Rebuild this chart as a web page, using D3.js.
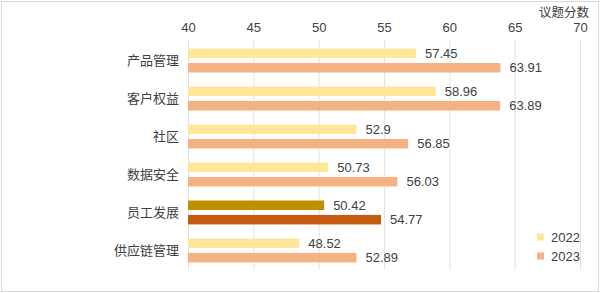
<!DOCTYPE html>
<html>
<head>
<meta charset="utf-8">
<script src="https://cdn.jsdelivr.net/npm/d3@7"></script>
<style>
  body { margin: 0; background: #fff; }
</style>
</head>
<body>
<div id="chart"></div>
<script>
// Data
const categories = ['产品管理', '客户权益', '社区', '数据安全', '员工发展', '供应链管理'];
const seriesNames = ['2022', '2023'];
const values2022 = [57.45, 58.96, 52.9, 50.73, 50.42, 48.52];
const values2023 = [63.91, 63.89, 56.85, 56.03, 54.77, 52.89];
const xTicks = [40, 45, 50, 55, 60, 65, 70];

const width = 600, height = 293;
const colors = { '2022': '#FFE699', '2023': '#F4B183' };
const highlight = { '2022': '#BF9000', '2023': '#C55A11' };
const highlightCat = '员工发展';
const cnFont = '"Noto Sans CJK SC", sans-serif';
const numFont = '"Liberation Sans", Arial, sans-serif';
const textColor = '#404040';

const rows = categories.map((c, i) => ({
    category: c,
    values: [
        { series: '2022', value: values2022[i] },
        { series: '2023', value: values2023[i] }
    ]
}));

const svg = d3.select('#chart')
    .append('svg')
    .attr('width', width)
    .attr('height', height);

// Outer border
svg.append('rect')
    .attr('x', 1.5).attr('y', 1.5)
    .attr('width', width - 3).attr('height', height - 3)
    .attr('fill', '#fff')
    .attr('stroke', '#d9d9d9');

const x = d3.scaleLinear().domain([40, 70]).range([188, 580]);
const y = d3.scaleBand().domain(categories).range([41, 270])
    .paddingInner(0.37).paddingOuter(0.2);
const ySub = d3.scaleBand().domain(seriesNames).range([0, y.bandwidth()])
    .paddingInner(0.34);

// Gridlines
svg.append('g')
    .selectAll('line')
    .data(xTicks)
    .join('line')
    .attr('x1', d => x(d) + 0.5).attr('x2', d => x(d) + 0.5)
    .attr('y1', 40).attr('y2', 270)
    .attr('stroke', '#e3e3e3');

// Top axis
const xAxis = svg.append('g')
    .attr('transform', 'translate(0,32)')
    .call(d3.axisTop(x).tickValues(xTicks).tickSize(0).tickPadding(0));
xAxis.select('.domain').remove();
xAxis.selectAll('text')
    .attr('font-family', numFont)
    .attr('font-size', 13)
    .attr('fill', textColor);

// Axis title
svg.append('text')
    .attr('x', 589).attr('y', 17)
    .attr('text-anchor', 'end')
    .attr('font-family', cnFont)
    .attr('font-size', 12.5)
    .attr('fill', textColor)
    .text('议题分数');

// Category labels
svg.append('g')
    .selectAll('text')
    .data(categories)
    .join('text')
    .attr('x', 179)
    .attr('y', d => y(d) + y.bandwidth() / 2)
    .attr('dy', '0.35em')
    .attr('text-anchor', 'end')
    .attr('font-family', cnFont)
    .attr('font-size', 13)
    .attr('fill', textColor)
    .text(d => d);

// Bars
const group = svg.append('g')
    .selectAll('g')
    .data(rows)
    .join('g')
    .attr('transform', d => `translate(0,${y(d.category)})`);

group.selectAll('rect')
    .data(d => d.values.map(v => ({ ...v, category: d.category })))
    .join('rect')
    .attr('x', x(40))
    .attr('y', d => ySub(d.series))
    .attr('width', d => x(d.value) - x(40))
    .attr('height', ySub.bandwidth())
    .attr('fill', d => d.category === highlightCat ? highlight[d.series] : colors[d.series]);

group.selectAll('text')
    .data(d => d.values)
    .join('text')
    .attr('x', d => x(d.value) + 9)
    .attr('y', d => ySub(d.series) + ySub.bandwidth() / 2)
    .attr('dy', '0.36em')
    .attr('font-family', numFont)
    .attr('font-size', 13)
    .attr('fill', textColor)
    .text(d => d.value);

// Legend
const legend = svg.append('g')
    .selectAll('g')
    .data(seriesNames)
    .join('g')
    .attr('transform', (d, i) => `translate(537,${237 + i * 19})`);

legend.append('rect')
    .attr('x', 0).attr('y', -3.5)
    .attr('width', 7).attr('height', 7)
    .attr('fill', d => colors[d]);

legend.append('text')
    .attr('x', 14)
    .attr('dy', '0.36em')
    .attr('font-family', numFont)
    .attr('font-size', 13)
    .attr('fill', textColor)
    .text(d => d);
</script>
</body>
</html>
